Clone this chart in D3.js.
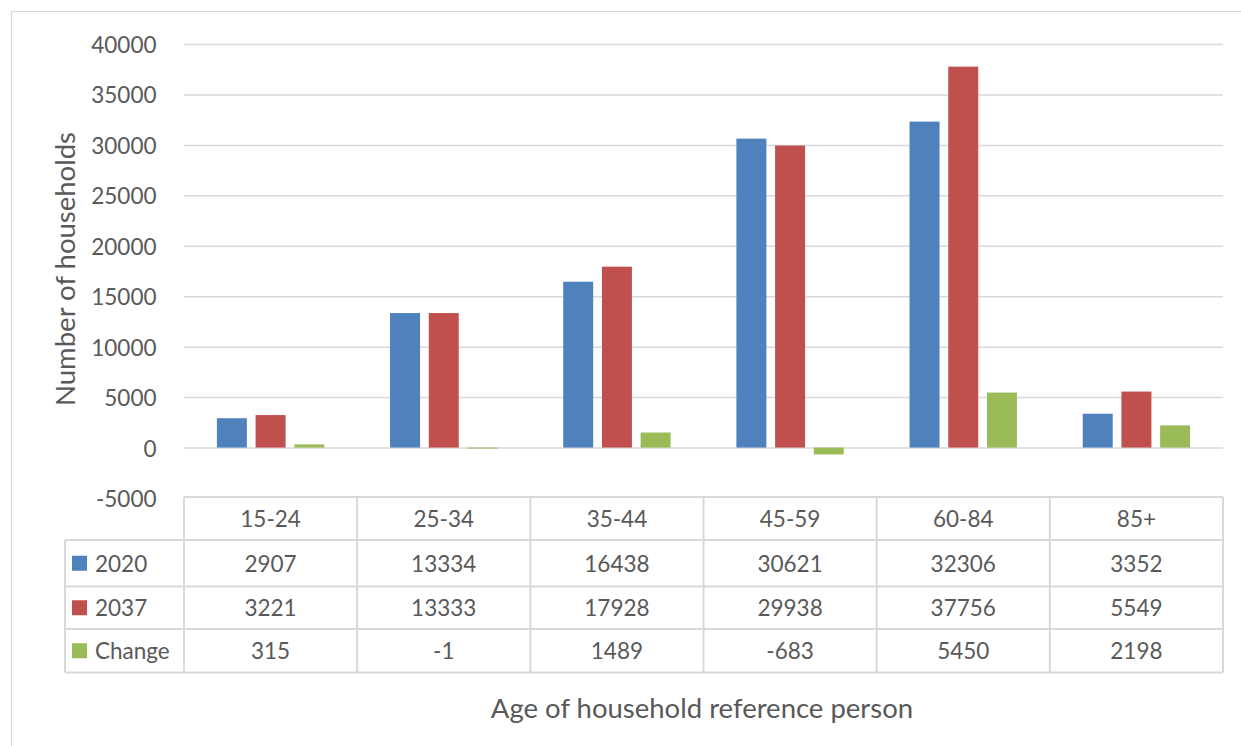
<!DOCTYPE html>
<html>
<head>
<meta charset="utf-8">
<script src="https://cdn.jsdelivr.net/npm/d3@7"></script>
<style>
  html, body { margin: 0; padding: 0; background: #ffffff; }
  svg { display: block; }
  text { font-family: Lato, "Open Sans", sans-serif; fill: #595959; }
</style>
</head>
<body>
<svg id="chart" width="1241" height="746"></svg>
<script>
// Households by age of household reference person
const categories = ["15-24", "25-34", "35-44", "45-59", "60-84", "85+"];
const seriesNames = ["2020", "2037", "Change"];
const values2020 = [2907, 13334, 16438, 30621, 32306, 3352];
const values2037 = [3221, 13333, 17928, 29938, 37756, 5549];
const valuesChange = [315, -1, 1489, -683, 5450, 2198];
const yTicks = [-5000, 0, 5000, 10000, 15000, 20000, 25000, 30000, 35000, 40000];

const seriesValues = [values2020, values2037, valuesChange];
const colors = ["#4F81BD", "#C0504D", "#9BBB59"];

const svg = d3.select("#chart");
const W = 1241, H = 746;

// plot area and data table geometry
const plot = { left: 184, right: 1223, top: 44, bottom: 498 };
const tableLeft = 65;
const rowLines = [497, 540, 586.5, 629, 672.5];
const gridColor = "#D9D9D9";
const fontSize = 22.5;

// plain hyphen for negatives, as in the table
const fmt = d => String(d);

// outer frame (continues past the right and bottom edges)
svg.append("rect")
  .attr("x", 11.5).attr("y", 11.5)
  .attr("width", W + 10).attr("height", H + 10)
  .attr("fill", "none").attr("stroke", gridColor).attr("stroke-width", 1.3);

const y = d3.scaleLinear().domain([-5000, 40000]).range([plot.bottom, plot.top]);
const x0 = d3.scaleBand().domain(categories).range([plot.left, plot.right]).padding(0);
const groupWidth = 107.4;
const x1 = d3.scaleBand().domain(seriesNames).range([0, groupWidth]).paddingInner(0.225).paddingOuter(0);
const groupOffset = (x0.bandwidth() - groupWidth) / 2;

// horizontal gridlines and y axis labels
const yAxis = d3.axisLeft(y).tickValues(yTicks).tickSize(0).tickPadding(0).tickFormat(fmt);
const yg = svg.append("g").attr("transform", `translate(${plot.left},0)`).call(yAxis);
yg.select(".domain").remove();
yg.selectAll(".tick text")
  .attr("x", -27.5)
  .attr("dy", null)
  .attr("dominant-baseline", "central")
  .style("font-size", fontSize + "px")
  .style("font-family", "Lato, sans-serif")
  .attr("fill", "#595959");
yg.selectAll(".tick")
  .filter(d => d !== -5000)
  .append("line")
  .attr("x1", 0).attr("x2", plot.right - plot.left)
  .attr("stroke", gridColor).attr("stroke-width", 1.5);

// bars
const barGroups = svg.append("g").selectAll("g")
  .data(categories)
  .join("g")
  .attr("transform", d => `translate(${x0(d) + groupOffset},0)`);

barGroups.selectAll("rect")
  .data((c, i) => seriesNames.map((s, k) => ({ s, v: seriesValues[k][i], k })))
  .join("rect")
  .attr("x", d => x1(d.s))
  .attr("width", x1.bandwidth())
  .attr("y", d => y(Math.max(0, d.v)))
  .attr("height", d => Math.max(1, Math.abs(y(d.v) - y(0))))
  .attr("fill", d => colors[d.k]);

// data table
const table = svg.append("g");
const lineAttrs = sel => sel.attr("stroke", gridColor).attr("stroke-width", 2).attr("fill", "none");

// horizontal rules
rowLines.forEach((ry, i) => {
  table.append("line")
    .attr("x1", i === 0 ? plot.left : tableLeft).attr("x2", plot.right)
    .attr("y1", ry).attr("y2", ry)
    .call(lineAttrs);
});
// vertical rules
categories.forEach((c, i) => {
  table.append("line")
    .attr("x1", x0(c)).attr("x2", x0(c))
    .attr("y1", rowLines[0]).attr("y2", rowLines[4])
    .call(lineAttrs);
});
table.append("line")
  .attr("x1", plot.right).attr("x2", plot.right)
  .attr("y1", rowLines[0]).attr("y2", rowLines[4])
  .call(lineAttrs);
table.append("line")
  .attr("x1", tableLeft).attr("x2", tableLeft)
  .attr("y1", rowLines[1]).attr("y2", rowLines[4])
  .call(lineAttrs);

const rowMid = i => (rowLines[i] + rowLines[i + 1]) / 2;

// category header row
table.selectAll("text.cat")
  .data(categories)
  .join("text")
  .attr("class", "cat")
  .attr("x", d => x0(d) + x0.bandwidth() / 2)
  .attr("y", rowMid(0))
  .attr("text-anchor", "middle")
  .attr("dominant-baseline", "central")
  .style("font-size", fontSize + "px")
  .text(d => d);

// series rows with legend keys
seriesNames.forEach((s, k) => {
  const my = rowMid(k + 1);
  table.append("rect")
    .attr("x", 72).attr("y", my - 7.5)
    .attr("width", 15).attr("height", 15)
    .attr("fill", colors[k]);
  table.append("text")
    .attr("x", 95).attr("y", my)
    .attr("dominant-baseline", "central")
    .style("font-size", fontSize + "px")
    .text(s);
  table.selectAll(null)
    .data(seriesValues[k])
    .join("text")
    .attr("x", (d, i) => x0(categories[i]) + x0.bandwidth() / 2)
    .attr("y", my)
    .attr("text-anchor", "middle")
    .attr("dominant-baseline", "central")
    .style("font-size", fontSize + "px")
    .text(fmt);
});

// axis titles
svg.append("text")
  .attr("x", 702).attr("y", 718)
  .attr("text-anchor", "middle")
  .style("font-size", "27.5px")
  .text("Age of household reference person");

svg.append("text")
  .attr("transform", "translate(75,269) rotate(-90)")
  .attr("text-anchor", "middle")
  .style("font-size", "27.5px")
  .text("Number of households");
</script>
</body>
</html>
